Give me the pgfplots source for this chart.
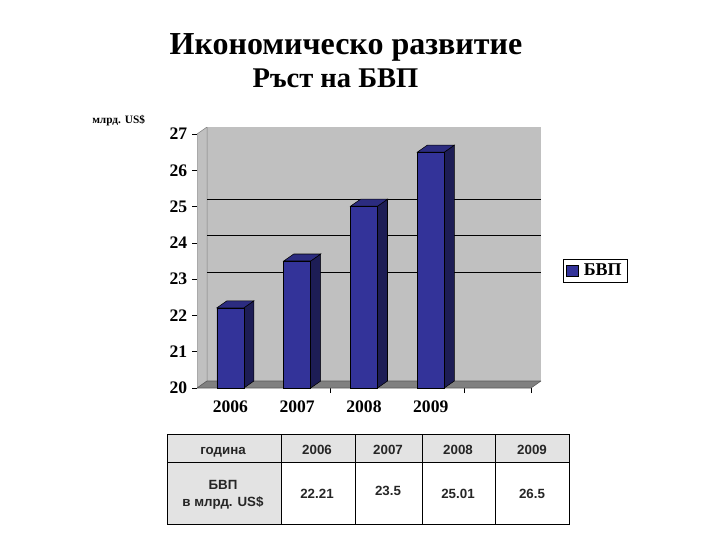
\documentclass[border=0pt]{standalone}
\usepackage{fontspec}
\setmainfont{Liberation Serif}
\newfontfamily\tabfont{Liberation Sans}
\usepackage{pgfplots}
\usepackage{pgfplotstable}
\pgfplotsset{compat=1.18}

\definecolor{barfront}{HTML}{333399}
\definecolor{bartop}{HTML}{2C2C80}
\definecolor{barside}{HTML}{1D1D55}
\definecolor{wall}{HTML}{C0C0C0}
\definecolor{floorgray}{HTML}{808080}
\definecolor{cellgray}{HTML}{E3E3E3}

% GDP, bn US$
\pgfplotstableread{
x v
1 22.21
2 23.5
3 25.01
4 26.5
}\gdp

\begin{document}
\begin{tikzpicture}
\path[use as bounding box] (0,0) rectangle (540pt,-405pt);

\node[anchor=base, font=\fontsize{24}{28}\selectfont\bfseries] at (259.5pt,-40.5pt) {Икономическо развитие};
\node[anchor=base, font=\fontsize{21.4}{24}\selectfont\bfseries] at (251.6pt,-65.25pt) {Ръст на БВП};
\node[anchor=base west, font=\fontsize{8.5}{10}\selectfont\bfseries, inner sep=0pt] at (69pt,-92.25pt) {млрд. US\$};

\begin{axis}[
  at={(147.75pt,-291pt)}, anchor=south west,
  width=258pt, height=195.75pt, scale only axis,
  xmin=0.5, xmax=5.65, ymin=20, ymax=27.193,
  axis line style={draw=none},
  /pgf/number format/assume math mode=true,
  ytick={20,21,...,27}, ytick pos=left,
  xtick={2.5,4.5,5.5}, xticklabels={}, xtick pos=bottom,
  extra x ticks={1,2,3,4},
  extra x tick labels={2006,2007,2008,2009},
  extra x tick style={major tick length=0pt},
  tick align=outside, major tick length=3.75pt,
  tick style={black, line width=0.5pt},
  yticklabel style={font=\fontsize{13.2}{15}\selectfont\bfseries},
  xticklabel style={font=\fontsize{13.2}{15}\selectfont\bfseries, yshift=-6pt},
  legend style={at={(1.064,0.45)}, anchor=west, draw=black, fill=white,
    font=\fontsize{13.5}{15}\selectfont\bfseries, inner xsep=2pt, inner ysep=1.5pt},
  legend image code/.code={
    \draw[fill=barfront, draw=black] (0pt,-4.1pt) rectangle (9pt,4.1pt);
    \path (11pt,0pt);},
]
% walls and floor
\addplot[fill=wall, draw=none, forget plot] coordinates {(0.65,20.193) (5.65,20.193) (5.65,27.193) (0.65,27.193)} -- cycle;
\addplot[fill=wall, draw=gray, forget plot] coordinates {(0.5,20) (0.65,20.193) (0.65,27.193) (0.5,27)} -- cycle;
\addplot[fill=floorgray, draw=gray!70!black, forget plot] coordinates {(0.5,20) (5.5,20) (5.65,20.193) (0.65,20.193)} -- cycle;
% gridlines on the back wall
\addplot[black, line width=0.6pt, forget plot] coordinates {(0.65,23.193) (5.65,23.193)};
\addplot[black, line width=0.6pt, forget plot] coordinates {(0.65,24.193) (5.65,24.193)};
\addplot[black, line width=0.6pt, forget plot] coordinates {(0.65,25.193) (5.65,25.193)};
% side and top faces of the bars
\pgfplotsinvokeforeach{0,1,2,3}{
  \pgfplotstablegetelem{#1}{v}\of\gdp
  \pgfmathsetmacro\bv{\pgfplotsretval}
  \pgfmathsetmacro\bt{\bv+0.193}
  \pgfmathsetmacro\bl{#1+1-0.202}
  \pgfmathsetmacro\br{#1+1+0.202}
  \pgfmathsetmacro\blb{\bl+0.15}
  \pgfmathsetmacro\brb{\br+0.15}
  \addplot[fill=barside, draw=black, line width=0.4pt, forget plot]
    coordinates {(\br,20) (\brb,20.193) (\brb,\bt) (\br,\bv)} -- cycle;
  \addplot[fill=bartop, draw=black, line width=0.4pt, forget plot]
    coordinates {(\bl,\bv) (\blb,\bt) (\brb,\bt) (\br,\bv)} -- cycle;
}
\addplot[ybar, bar width=20.25pt, fill=barfront, draw=black, line width=0.4pt]
  table[x=x, y=v]{\gdp};
\addlegendentry{БВП}
\end{axis}

% data table
\fill[cellgray] (125.25pt,-325.5pt) rectangle (426.75pt,-346.5pt);
\fill[cellgray] (125.25pt,-346.5pt) rectangle (210.75pt,-393pt);
\draw[black, line width=0.6pt] (125.25pt,-325.5pt) rectangle (426.75pt,-393pt);
\draw[black, line width=0.6pt] (125.25pt,-346.5pt) -- (426.75pt,-346.5pt);
\foreach \xx in {210.75,266.25,316.5,371.25}
  \draw[black, line width=0.6pt] (\xx pt,-325.5pt) -- (\xx pt,-393pt);
\begin{scope}[every node/.style={font=\tabfont\fontsize{10}{12}\selectfont\bfseries, text=black!85, text height=7.2pt, text depth=0.6pt}]
\node at (167.25pt,-337.5pt) {година};
\node at (237.75pt,-337.5pt) {2006};
\node at (291pt,-337.5pt) {2007};
\node at (343.5pt,-337.5pt) {2008};
\node at (399pt,-337.5pt) {2009};
\node at (167.25pt,-363.75pt) {БВП};
\node at (167.25pt,-376.5pt) {в млрд. US\$};
\node at (237.75pt,-370.5pt) {22.21};
\node at (291pt,-368.25pt) {23.5};
\node at (343.5pt,-370.5pt) {25.01};
\node at (399pt,-370.5pt) {26.5};
\end{scope}
\end{tikzpicture}
\end{document}
